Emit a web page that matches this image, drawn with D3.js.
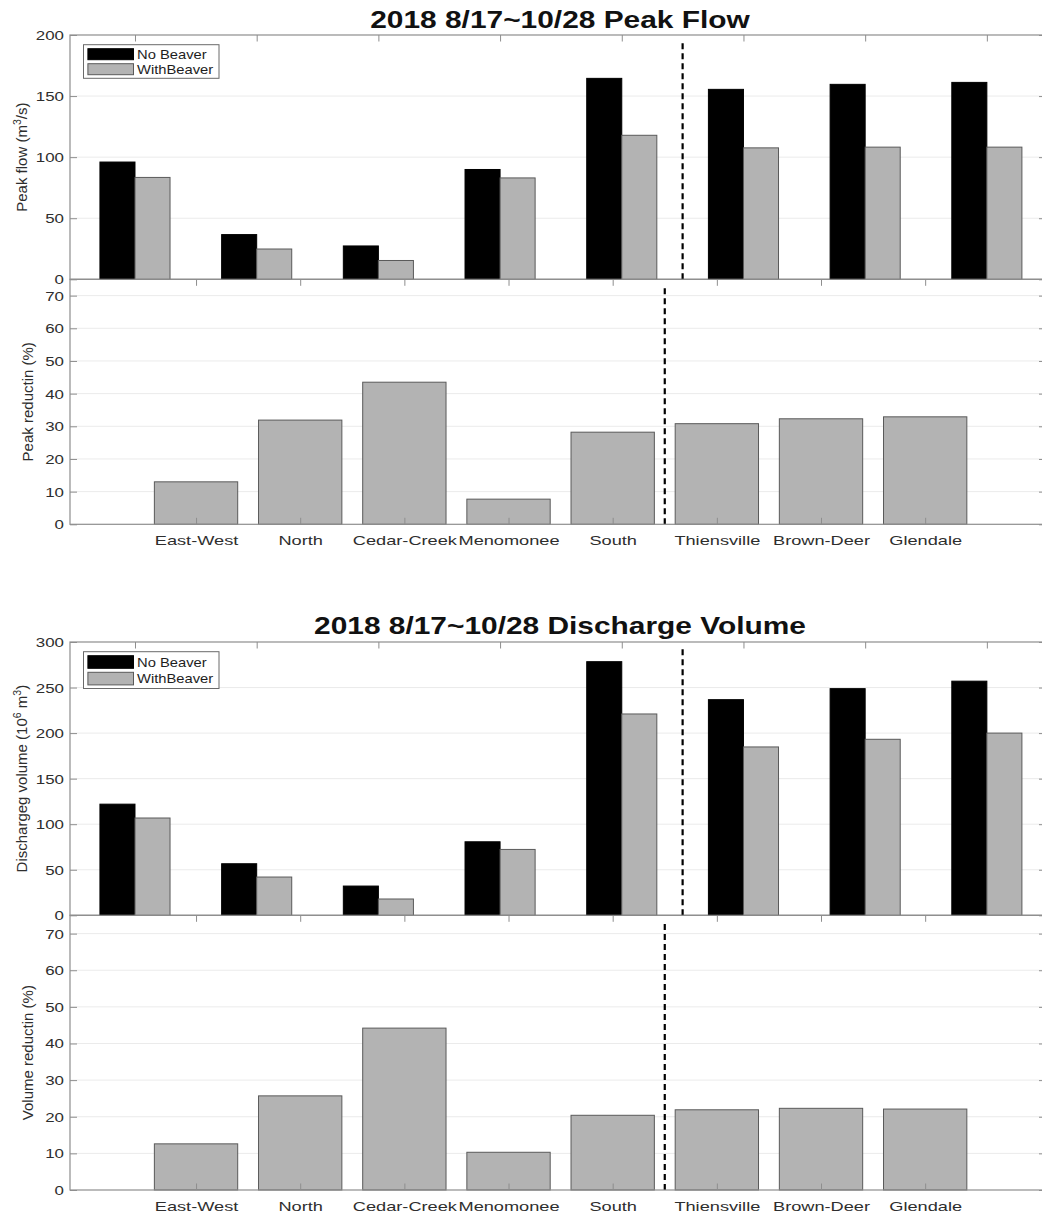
<!DOCTYPE html>
<html>
<head>
<meta charset="utf-8">
<script src="https://cdn.jsdelivr.net/npm/d3@7"></script>
<style>
  body { margin: 0; background: #fff; }
  svg { display: block; }
  text { font-family: "Liberation Sans", Arial, Helvetica, sans-serif; }
</style>
</head>
<body>
<svg id="chart" width="1042" height="1218"></svg>
<script>
// ---- data ----
const categories = ["East-West", "North", "Cedar-Creek", "Menomonee", "South", "Thiensville", "Brown-Deer", "Glendale"];
const seriesNames = ["No Beaver", "WithBeaver"];

// peak flow, m3/s
const peakNoBeaver   = [96.0, 36.6, 27.3, 89.9, 164.5, 155.5, 159.6, 161.2];
const peakWithBeaver = [83.4, 24.8, 15.4, 83.0, 117.9, 107.6, 108.2, 108.2];
// peak reduction, %
const peakReduction  = [13.0, 31.9, 43.5, 7.7, 28.2, 30.8, 32.3, 32.9];

// discharge volume, 10^6 m3
const volumeNoBeaver   = [122.0, 56.6, 32.1, 80.7, 278.4, 236.7, 248.8, 257.0];
const volumeWithBeaver = [106.8, 42.0, 17.9, 72.3, 221.0, 184.8, 193.2, 200.0];
// volume reduction, %
const volumeReduction  = [12.6, 25.7, 44.2, 10.3, 20.4, 21.9, 22.3, 22.1];

const peakTicks      = [0, 50, 100, 150, 200];
const volumeTicks    = [0, 50, 100, 150, 200, 250, 300];
const reductionTicks = [0, 10, 20, 30, 40, 50, 60, 70];

// divider between upstream sub-basins and main-stem gauges
const dividerPos = 5.5;

// ---- styling ----
const PLOT_LEFT = 70, PLOT_RIGHT = 1046;
const AXIS_COLOR = "#8e8e8e";
const GRID_COLOR = "#ebebeb";
const TEXT_COLOR = "#2e2e2e";
const GRAY_FILL = "#b3b3b3";
const GRAY_EDGE = "#5a5a5a";
const SX = 1.3;          // horizontal text widening
const SX_CAT = 1.4;      // category labels
const TICK_LEN = 6.5;

const svg = d3.select("#chart");
const positions = categories.map((c, i) => i + 1);

const flowX = d3.scaleLinear().domain([0.466, 8.486]).range([PLOT_LEFT, PLOT_RIGHT]);
const redX  = d3.scaleLinear().domain([-0.21, 9.16]).range([PLOT_LEFT, PLOT_RIGHT]);
const FLOW_HALF = 0.288;
const RED_HALF = 0.4;

function styleAxis(sel) {
  sel.select(".domain").remove();
  sel.selectAll(".tick line").attr("stroke", AXIS_COLOR).attr("stroke-width", 1);
  sel.selectAll(".tick text").attr("fill", TEXT_COLOR).attr("font-size", 13);
}

function stretchText(sel, dx, dy, sx) {
  sel.each(function () {
    d3.select(this).attr("x", null).attr("y", null).attr("dy", null)
      .attr("transform", `translate(${dx},${dy}) scale(${sx},1)`);
  });
}

function grid(g, y, ticks, ymax) {
  g.append("g").selectAll("line")
    .data(ticks.filter(t => t > 0 && t < ymax))
    .join("line")
    .attr("x1", PLOT_LEFT).attr("x2", PLOT_RIGHT)
    .attr("y1", d => y(d)).attr("y2", d => y(d))
    .attr("stroke", GRID_COLOR).attr("stroke-width", 1);
}

function yAxes(g, y, ticks) {
  const left = g.append("g").attr("transform", `translate(${PLOT_LEFT},0)`)
    .call(d3.axisLeft(y).tickValues(ticks).tickSize(-7).tickSizeOuter(0).tickPadding(6));
  styleAxis(left);
  left.selectAll(".tick text").attr("text-anchor", "end").call(stretchText, -6, 4.5, SX);
  const right = g.append("g").attr("transform", `translate(${PLOT_RIGHT},0)`)
    .call(d3.axisRight(y).tickValues(ticks).tickSize(-7).tickSizeOuter(0).tickFormat(""));
  styleAxis(right);
}

function yLabel(g, x, cy, parts) {
  const t = g.append("text")
    .attr("transform", `translate(${x},${cy}) rotate(-90)`)
    .attr("text-anchor", "middle")
    .attr("font-size", 15)
    .attr("fill", TEXT_COLOR);
  parts.forEach(p => {
    const s = t.append("tspan").text(p.text);
    if (p.sup) s.attr("font-size", 10.5).attr("dy", -6);
    else if (p.after) s.attr("dy", 6);
  });
}

function legend(g, top, rowH) {
  const lx = PLOT_LEFT + 13.5, ly = top + 9.7;
  const lg = g.append("g");
  lg.append("rect").attr("x", lx).attr("y", ly).attr("width", 135.5).attr("height", 2 * rowH + 3.6)
    .attr("fill", "#fff").attr("stroke", "#6a6a6a").attr("stroke-width", 1);
  const fills = ["#000", GRAY_FILL], edges = ["#000", GRAY_EDGE];
  seriesNames.forEach((name, i) => {
    const sy = ly + 4 + i * rowH;
    lg.append("rect").attr("x", lx + 4.4).attr("y", sy).attr("width", 45.6).attr("height", rowH - 4)
      .attr("fill", fills[i]).attr("stroke", edges[i]).attr("stroke-width", 1);
    lg.append("text").text(name)
      .attr("transform", `translate(${lx + 53.5},${sy + (rowH - 4) / 2 + 4.5}) scale(1.18,1)`)
      .attr("font-size", 12.5).attr("fill", "#1e1e1e");
  });
}

function title(g, text, baseline) {
  g.append("text").text(text)
    .attr("transform", `translate(560,${baseline}) scale(${SX},1)`)
    .attr("text-anchor", "middle")
    .attr("font-size", 23).attr("font-weight", "bold").attr("fill", "#111");
}

function flowPanel(cfg) {
  const y = d3.scaleLinear().domain([0, cfg.ymax]).range([cfg.bottom, cfg.top]);
  const g = svg.append("g");
  grid(g, y, cfg.ticks, cfg.ymax);

  // bottom category ticks (sit beneath the bars)
  const bottomAx = g.append("g").attr("transform", `translate(0,${cfg.bottom})`)
    .call(d3.axisBottom(flowX).tickValues(positions).tickSize(-TICK_LEN).tickSizeOuter(0).tickFormat(""));
  styleAxis(bottomAx);

  const rows = categories.map((c, i) => ({ pos: i + 1, a: cfg.noBeaver[i], b: cfg.withBeaver[i] }));
  g.append("g").selectAll("rect").data(rows).join("rect")
    .attr("x", d => flowX(d.pos - FLOW_HALF))
    .attr("width", d => flowX(d.pos) - flowX(d.pos - FLOW_HALF))
    .attr("y", d => y(d.a)).attr("height", d => y(0) - y(d.a))
    .attr("fill", "#000").attr("stroke", "#000").attr("stroke-width", 1);
  g.append("g").selectAll("rect").data(rows).join("rect")
    .attr("x", d => flowX(d.pos))
    .attr("width", d => flowX(d.pos + FLOW_HALF) - flowX(d.pos))
    .attr("y", d => y(d.b)).attr("height", d => y(0) - y(d.b))
    .attr("fill", GRAY_FILL).attr("stroke", GRAY_EDGE).attr("stroke-width", 1);

  g.append("line")
    .attr("x1", flowX(dividerPos)).attr("x2", flowX(dividerPos))
    .attr("y1", y(0)).attr("y2", y(cfg.dashTop))
    .attr("stroke", "#000").attr("stroke-width", 2.2).attr("stroke-dasharray", "6,4");

  const topAx = g.append("g").attr("transform", `translate(0,${cfg.top})`)
    .call(d3.axisTop(flowX).tickValues(positions).tickSize(-TICK_LEN).tickSizeOuter(0).tickFormat(""));
  styleAxis(topAx);
  yAxes(g, y, cfg.ticks);

  g.append("rect").attr("x", PLOT_LEFT).attr("y", cfg.top)
    .attr("width", PLOT_RIGHT - PLOT_LEFT).attr("height", cfg.bottom - cfg.top)
    .attr("fill", "none").attr("stroke", AXIS_COLOR).attr("stroke-width", 1.2);

  yLabel(g, cfg.labelX, (cfg.top + cfg.bottom) / 2, cfg.label);
  title(g, cfg.title, cfg.titleY);
  legend(g, cfg.top, cfg.legendRow);
}

function reductionPanel(cfg) {
  const y = d3.scaleLinear().domain([0, cfg.ymax]).range([cfg.bottom, cfg.top]);
  const g = svg.append("g");
  grid(g, y, cfg.ticks, cfg.ymax);

  g.append("g").selectAll("rect").data(cfg.values.map((v, i) => ({ pos: i + 1, v })))
    .join("rect")
    .attr("x", d => redX(d.pos - RED_HALF))
    .attr("width", d => redX(d.pos + RED_HALF) - redX(d.pos - RED_HALF))
    .attr("y", d => y(d.v)).attr("height", d => y(0) - y(d.v))
    .attr("fill", GRAY_FILL).attr("stroke", GRAY_EDGE).attr("stroke-width", 1);

  g.append("line")
    .attr("x1", redX(dividerPos)).attr("x2", redX(dividerPos))
    .attr("y1", y(0)).attr("y2", y(cfg.dashTop))
    .attr("stroke", "#000").attr("stroke-width", 2.2).attr("stroke-dasharray", "6,4");

  const bottomAx = g.append("g").attr("transform", `translate(0,${cfg.bottom})`)
    .call(d3.axisBottom(redX).tickValues(positions).tickSize(-TICK_LEN).tickSizeOuter(0)
      .tickFormat(p => categories[p - 1]));
  styleAxis(bottomAx);
  bottomAx.selectAll(".tick text").attr("text-anchor", "middle").call(stretchText, 0, 20.5, SX_CAT);

  const topAx = g.append("g").attr("transform", `translate(0,${cfg.top})`)
    .call(d3.axisTop(redX).tickValues(positions).tickSize(-TICK_LEN).tickSizeOuter(0).tickFormat(""));
  styleAxis(topAx);
  yAxes(g, y, cfg.ticks);

  g.append("rect").attr("x", PLOT_LEFT).attr("y", cfg.top)
    .attr("width", PLOT_RIGHT - PLOT_LEFT).attr("height", cfg.bottom - cfg.top)
    .attr("fill", "none").attr("stroke", AXIS_COLOR).attr("stroke-width", 1.2);

  yLabel(g, cfg.labelX, (cfg.top + cfg.bottom) / 2, cfg.label);
}

// ---- peak flow figure ----
reductionPanel({
  top: 279.3, bottom: 524.3, ymax: 75, ticks: reductionTicks,
  values: peakReduction, dashTop: 73.4, labelX: 33,
  label: [{ text: "Peak reductin (%)" }]
});
flowPanel({
  top: 35, bottom: 279.3, ymax: 200, ticks: peakTicks,
  noBeaver: peakNoBeaver, withBeaver: peakWithBeaver, dashTop: 194,
  labelX: 27, legendRow: 15,
  label: [{ text: "Peak flow (m" }, { text: "3", sup: true }, { text: "/s)", after: true }],
  title: "2018 8/17~10/28 Peak Flow", titleY: 28.3
});

// ---- discharge volume figure ----
reductionPanel({
  top: 915.3, bottom: 1190, ymax: 75, ticks: reductionTicks,
  values: volumeReduction, dashTop: 73, labelX: 33,
  label: [{ text: "Volume reductin (%)" }]
});
flowPanel({
  top: 642, bottom: 915.3, ymax: 300, ticks: volumeTicks,
  noBeaver: volumeNoBeaver, withBeaver: volumeWithBeaver, dashTop: 292,
  labelX: 26.5, legendRow: 16.6,
  label: [{ text: "Dischargeg volume (10" }, { text: "6", sup: true }, { text: " m", after: true },
          { text: "3", sup: true }, { text: ")", after: true }],
  title: "2018 8/17~10/28 Discharge Volume", titleY: 633.5
});
</script>
</body>
</html>
